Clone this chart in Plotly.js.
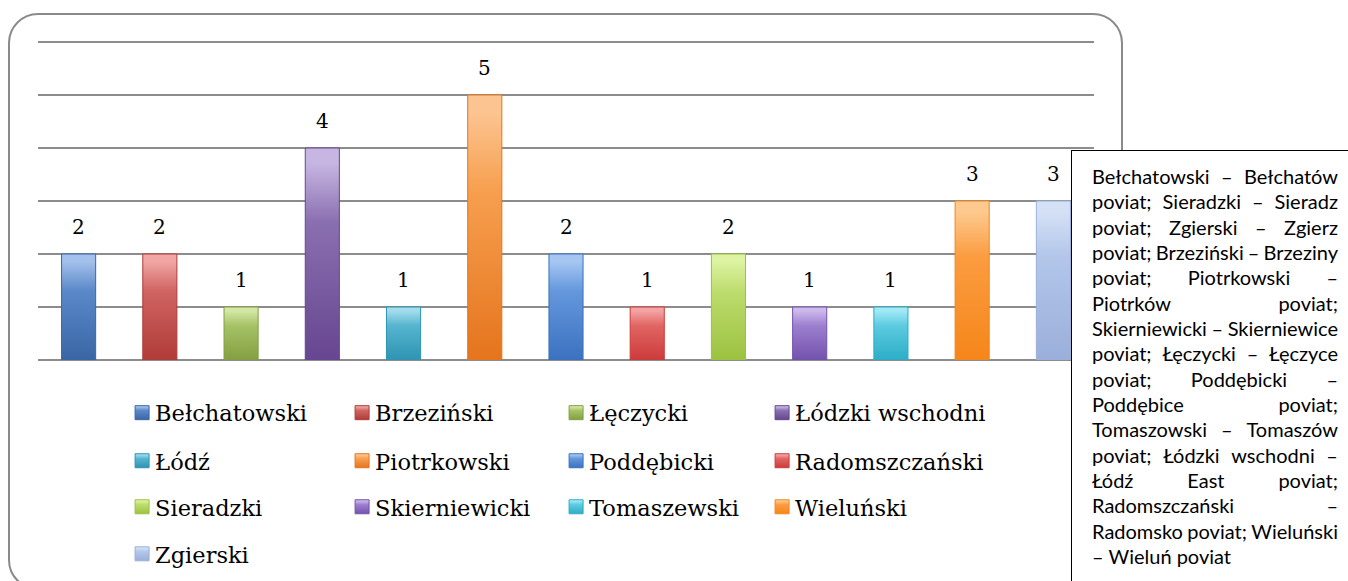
<!DOCTYPE html>
<html>
<head>
<meta charset="utf-8">
<script src="https://cdn.plot.ly/plotly-3.0.1.min.js"></script>
<style>
  html, body { margin: 0; padding: 0; background: #fff; overflow: hidden; }
  #frame { position: absolute; left: 8px; top: 13px; width: 1115px; height: 577px; box-sizing: border-box;
           border: 2px solid #8a8a8a; border-radius: 30px; }
  #chart { position: absolute; left: 0; top: 0; width: 1348px; height: 581px; }
  #note { position: absolute; left: 1071px; top: 150px; width: 300px; height: 460px; box-sizing: border-box;
          border: 1px solid #000; background: #fff; padding: 13px 0 0 20px;
          font-family: Lato, "Noto Sans", sans-serif; font-size: 20px; color: #000; }
  .ln { width: 246px; height: 25.33px; line-height: 25.33px; display: flex; justify-content: space-between; white-space: nowrap; }
  .ln.last { justify-content: flex-start; }
  .ln.last span { margin-right: 5px; }
</style>
</head>
<body>
<div id="frame"></div>
<div id="chart"></div>
<div id="note"></div>
<script>
// ---- data ----
const categories = ["Bełchatowski", "Brzeziński", "Łęczycki", "Łódzki wschodni", "Łódź", "Piotrkowski",
  "Poddębicki", "Radomszczański", "Sieradzki", "Skierniewicki", "Tomaszewski", "Wieluński", "Zgierski"];
const values = [2, 2, 1, 4, 1, 5, 2, 1, 2, 1, 1, 3, 3];
const legendRows = ["legend", "legend", "legend", "legend", "legend2", "legend2", "legend2", "legend2",
  "legend3", "legend3", "legend3", "legend3", "legend4"];
const baseColors = ["#5a88c8", "#cf6461", "#a6c266", "#8a6fb0", "#56b5cf", "#f7a050", "#6497dc", "#e06563",
  "#bddc6e", "#9d7fcf", "#5ccbe0", "#fb9c40", "#b3c6ea"];
const topColors = ["#a4c0ec", "#f0a6a4", "#d4e8a6", "#c7b6e2", "#a4dcec", "#fcc491", "#a6c6f2", "#f4a4a4",
  "#ddf3a2", "#cdb9ec", "#a2e9f5", "#fdc98e", "#d4e0f5"];
const bottomColors = ["#3a66a6", "#b03b38", "#839f42", "#664690", "#2e94b2", "#e5741d", "#3b72c0", "#cc3b3b",
  "#9cc240", "#7252ac", "#2cadc7", "#f5861a", "#9aafda"];
const noteLines = [
  "Bełchatowski – Bełchatów",
  "poviat; Sieradzki – Sieradz",
  "poviat; Zgierski – Zgierz",
  "poviat; Brzeziński – Brzeziny",
  "poviat; Piotrkowski –",
  "Piotrków poviat;",
  "Skierniewicki – Skierniewice",
  "poviat; Łęczycki – Łęczyce",
  "poviat; Poddębicki –",
  "Poddębice poviat;",
  "Tomaszowski – Tomaszów",
  "poviat; Łódzki wschodni –",
  "Łódź East poviat;",
  "Radomszczański –",
  "Radomsko poviat; Wieluński",
  "– Wieluń poviat"
];

// legend column widths (style)
const legendColWidths = [175, 169, 161, 230];

// ---- traces ----
const traces = categories.map((c, i) => ({
  type: "bar",
  name: c,
  x: [c],
  y: [values[i]],
  width: 0.42,
  legend: legendRows[i],
  legendwidth: legendColWidths[i % 4],
  marker: { color: baseColors[i], line: { color: bottomColors[i], width: 1 } },
  hoverinfo: "none"
}));

const annotations = categories.map((c, i) => ({
  x: c, y: values[i], xref: "x", yref: "y", text: String(values[i]),
  showarrow: false, yanchor: "middle", yshift: 27,
  font: { family: "DejaVu Serif", size: 20, color: "#000" }
}));

const legendFont = { family: "DejaVu Serif", size: 22.5, color: "#000" };
function legendAt(y) {
  return { orientation: "h", x: 0.073, xanchor: "left", y: y, yanchor: "middle",
    entrywidthmode: "pixels", font: legendFont, bgcolor: "rgba(0,0,0,0)",
    itemclick: false, itemdoubleclick: false };
}

const layout = {
  width: 1348, height: 581,
  margin: { l: 38, r: 254, t: 39, b: 221, autoexpand: false },
  paper_bgcolor: "rgba(0,0,0,0)", plot_bgcolor: "rgba(0,0,0,0)",
  barmode: "overlay",
  showlegend: true,
  xaxis: { type: "category", range: [-0.5, 12.5], showticklabels: false, showgrid: false,
    zeroline: false, showline: false, ticks: "", fixedrange: true },
  yaxis: { range: [0, 6.0566], dtick: 1, showticklabels: false, showgrid: true, gridcolor: "#8c8c8c",
    gridwidth: 2, zeroline: true, zerolinecolor: "#8c8c8c", zerolinewidth: 2, showline: false,
    ticks: "", fixedrange: true },
  legend: legendAt(-0.1653),
  legend2: legendAt(-0.3150),
  legend3: legendAt(-0.4584),
  legend4: legendAt(-0.6050),
  annotations: annotations
};

Plotly.newPlot("chart", traces, layout, { displayModeBar: false, staticPlot: true }).then(applyGradients);

function applyGradients() {
  const svg = document.querySelector("#chart .main-svg");
  const NS = "http://www.w3.org/2000/svg";
  let defs = svg.querySelector("defs");
  if (!defs) { defs = document.createElementNS(NS, "defs"); svg.insertBefore(defs, svg.firstChild); }
  categories.forEach((c, i) => {
    const g = document.createElementNS(NS, "linearGradient");
    g.setAttribute("id", "bargrad" + i);
    g.setAttribute("x1", "0"); g.setAttribute("y1", "0"); g.setAttribute("x2", "0"); g.setAttribute("y2", "1");
    [[0, topColors[i]], [0.07, topColors[i]], [0.35, baseColors[i]], [1, bottomColors[i]]].forEach(s => {
      const st = document.createElementNS(NS, "stop");
      st.setAttribute("offset", s[0]); st.setAttribute("stop-color", s[1]);
      g.appendChild(st);
    });
    defs.appendChild(g);
  });
  document.querySelectorAll("#chart .barlayer .trace").forEach(tr => {
    const d = tr.__data__;
    if (!d || !d[0] || !d[0].trace) return;
    const idx = d[0].trace.index;
    tr.querySelectorAll("path").forEach(p => { p.style.fill = "url(#bargrad" + idx + ")"; });
  });
  document.querySelectorAll("#chart g.traces").forEach(tr => {
    const d = tr.__data__;
    if (!d || !d[0] || !d[0].trace) return;
    const idx = d[0].trace.index;
    tr.querySelectorAll(".legendpoints path").forEach(p => {
      p.style.fill = "url(#bargrad" + idx + ")";
      p.setAttribute("d", "M14,7H0V-7H14Z");
    });
  });
}

// ---- note box ----
const note = document.getElementById("note");
noteLines.forEach((t, i) => {
  const div = document.createElement("div");
  div.className = "ln" + (i === noteLines.length - 1 ? " last" : "");
  t.split(" ").forEach(w => { const s = document.createElement("span"); s.textContent = w; div.appendChild(s); });
  note.appendChild(div);
});
</script>
</body>
</html>
